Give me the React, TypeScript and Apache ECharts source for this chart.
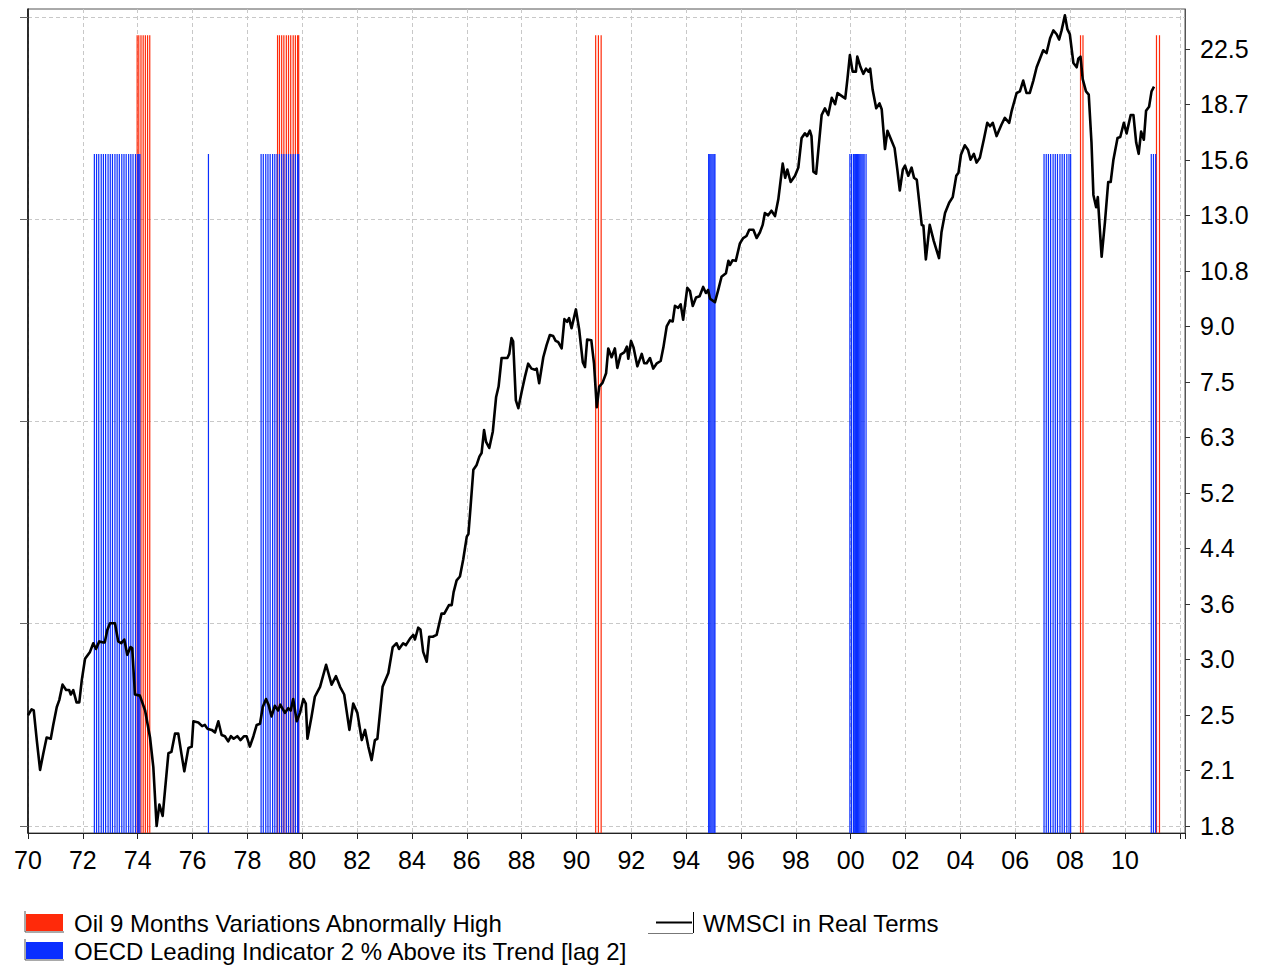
import React, { useEffect, useRef } from "react";
import * as echarts from "echarts";

// ---------- DATA ----------
const wmsciYears = [
  1970.0, 1970.13, 1970.21, 1970.32, 1970.44, 1970.56, 1970.68, 1970.83, 1970.92, 1971.05,
  1971.14, 1971.26, 1971.39, 1971.5, 1971.56, 1971.65, 1971.77, 1971.87, 1971.96, 1972.08,
  1972.26, 1972.38, 1972.48, 1972.6, 1972.72, 1972.8, 1972.89, 1972.99, 1973.17, 1973.29,
  1973.4, 1973.51, 1973.62, 1973.74, 1973.8, 1973.9, 1974.08, 1974.27, 1974.45, 1974.57,
  1974.69, 1974.79, 1974.91, 1975.12, 1975.23, 1975.36, 1975.48, 1975.6, 1975.7, 1975.85,
  1975.97, 1976.03, 1976.21, 1976.35, 1976.45, 1976.54, 1976.7, 1976.82, 1976.94, 1977.06,
  1977.18, 1977.3, 1977.4, 1977.5, 1977.63, 1977.75, 1977.88, 1977.97, 1978.09, 1978.22,
  1978.34, 1978.46, 1978.56, 1978.68, 1978.77, 1978.88, 1979.0, 1979.12, 1979.2, 1979.37,
  1979.49, 1979.58, 1979.67, 1979.8, 1979.92, 1980.04, 1980.13, 1980.19, 1980.34, 1980.46,
  1980.65, 1980.87, 1981.07, 1981.23, 1981.38, 1981.53, 1981.72, 1981.86, 1982.01, 1982.17,
  1982.29, 1982.41, 1982.53, 1982.65, 1982.74, 1982.93, 1983.14, 1983.3, 1983.44, 1983.53,
  1983.68, 1983.78, 1983.93, 1984.05, 1984.11, 1984.23, 1984.31, 1984.41, 1984.54, 1984.63,
  1984.76, 1984.9, 1985.08, 1985.18, 1985.35, 1985.45, 1985.52, 1985.63, 1985.75, 1985.87,
  1986.0, 1986.06, 1986.14, 1986.24, 1986.36, 1986.46, 1986.54, 1986.63, 1986.7, 1986.82,
  1986.95, 1987.07, 1987.16, 1987.27, 1987.48, 1987.55, 1987.63, 1987.69, 1987.79, 1987.88,
  1988.0, 1988.12, 1988.24, 1988.36, 1988.49, 1988.55, 1988.64, 1988.79, 1988.91, 1989.03,
  1989.15, 1989.24, 1989.33, 1989.46, 1989.56, 1989.66, 1989.73, 1989.82, 1989.98, 1990.1,
  1990.23, 1990.31, 1990.39, 1990.54, 1990.64, 1990.74, 1990.83, 1990.95, 1991.08, 1991.16,
  1991.28, 1991.4, 1991.49, 1991.61, 1991.74, 1991.84, 1991.89, 1991.99, 1992.08, 1992.22,
  1992.38, 1992.47, 1992.56, 1992.68, 1992.8, 1992.93, 1993.07, 1993.17, 1993.29, 1993.41,
  1993.51, 1993.59, 1993.71, 1993.8, 1993.89, 1994.04, 1994.14, 1994.24, 1994.36, 1994.49,
  1994.62, 1994.72, 1994.8, 1994.87, 1995.05, 1995.17, 1995.29, 1995.45, 1995.54, 1995.6,
  1995.69, 1995.81, 1995.96, 1996.08, 1996.2, 1996.3, 1996.45, 1996.57, 1996.69, 1996.79,
  1996.87, 1996.99, 1997.11, 1997.24, 1997.36, 1997.52, 1997.61, 1997.69, 1997.81, 1997.97,
  1998.09, 1998.21, 1998.33, 1998.41, 1998.51, 1998.57, 1998.64, 1998.74, 1998.82, 1998.94,
  1999.06, 1999.18, 1999.31, 1999.43, 1999.52, 1999.68, 1999.8, 1999.88, 1999.97, 2000.07,
  2000.19, 2000.24, 2000.36, 2000.46, 2000.56, 2000.65, 2000.71, 2000.8, 2000.93, 2001.05,
  2001.13, 2001.25, 2001.34, 2001.46, 2001.6, 2001.7, 2001.79, 2001.9, 2001.98, 2002.1,
  2002.22, 2002.31, 2002.41, 2002.59, 2002.65, 2002.74, 2002.88, 2003.03, 2003.22, 2003.31,
  2003.44, 2003.59, 2003.72, 2003.85, 2003.93, 2004.02, 2004.16, 2004.28, 2004.37, 2004.49,
  2004.59, 2004.71, 2004.86, 2004.98, 2005.08, 2005.18, 2005.32, 2005.5, 2005.62, 2005.78,
  2005.87, 2006.05, 2006.17, 2006.29, 2006.41, 2006.53, 2006.66, 2006.78, 2006.9, 2007.02,
  2007.14, 2007.27, 2007.39, 2007.51, 2007.6, 2007.69, 2007.81, 2007.9, 2007.99, 2008.12,
  2008.24, 2008.3, 2008.38, 2008.46, 2008.58, 2008.68, 2008.78, 2008.85, 2008.95, 2009.01,
  2009.15, 2009.27, 2009.39, 2009.48, 2009.58, 2009.73, 2009.83, 2009.96, 2010.06, 2010.21,
  2010.31, 2010.41, 2010.5, 2010.59, 2010.69, 2010.77, 2010.88, 2010.97, 2011.06,
];

const wmsciValues = [
  2.58, 2.63, 2.62, 2.38, 2.16, 2.28, 2.4, 2.39, 2.5, 2.65,
  2.71, 2.85, 2.8, 2.8, 2.76, 2.8, 2.69, 2.69, 2.89, 3.1,
  3.17, 3.26, 3.2, 3.28, 3.27, 3.27, 3.4, 3.48, 3.48, 3.28,
  3.26, 3.3, 3.14, 3.22, 3.21, 2.76, 2.75, 2.62, 2.4, 2.18,
  1.8, 1.93, 1.86, 2.28, 2.29, 2.43, 2.43, 2.27, 2.15, 2.32,
  2.33, 2.53, 2.52, 2.49, 2.5, 2.47, 2.46, 2.44, 2.53, 2.42,
  2.41, 2.37, 2.41, 2.39, 2.41, 2.38, 2.41, 2.41, 2.33, 2.41,
  2.5, 2.51, 2.65, 2.72, 2.67, 2.57, 2.66, 2.62, 2.67, 2.6,
  2.64, 2.62, 2.72, 2.53, 2.6, 2.72, 2.68, 2.39, 2.57, 2.74,
  2.83, 3.04, 2.85, 2.93, 2.83, 2.76, 2.46, 2.68, 2.6, 2.38,
  2.46, 2.33, 2.23, 2.38, 2.39, 2.83, 2.96, 3.22, 3.26, 3.2,
  3.26, 3.24, 3.31, 3.35, 3.3, 3.43, 3.41, 3.17, 3.07, 3.33,
  3.33, 3.35, 3.59, 3.59, 3.69, 3.69, 3.85, 4.0, 4.05, 4.28,
  4.61, 4.65, 5.09, 5.73, 5.82, 5.98, 6.05, 6.52, 6.28, 6.15,
  6.49, 7.26, 7.51, 8.24, 8.24, 8.35, 8.79, 8.7, 7.18, 7.0,
  7.38, 7.75, 8.09, 7.96, 7.93, 7.96, 7.59, 8.26, 8.59, 8.88,
  8.85, 8.71, 8.68, 8.5, 9.35, 9.27, 9.38, 9.08, 9.65, 9.03,
  8.13, 8.0, 8.75, 8.73, 8.09, 7.02, 7.51, 7.6, 7.84, 8.5,
  8.26, 8.5, 7.98, 8.33, 8.39, 8.55, 8.22, 8.71, 8.53, 8.02,
  8.35, 8.1, 8.1, 8.24, 7.96, 8.1, 8.16, 8.53, 9.13, 9.31,
  9.28, 9.76, 9.7, 9.81, 9.33, 10.35, 10.24, 9.76, 10.03, 10.07,
  10.38, 10.18, 10.28, 9.99, 9.88, 10.28, 10.73, 10.85, 11.3, 11.15,
  11.32, 11.3, 11.96, 12.17, 12.25, 12.5, 12.5, 12.17, 12.4, 12.7,
  13.2, 13.1, 13.3, 13.07, 13.8, 15.5, 14.8, 15.2, 14.6, 14.9,
  15.3, 16.85, 17.1, 16.95, 17.25, 16.95, 15.1, 15.0, 16.2, 18.15,
  18.55, 18.15, 19.2, 18.8, 19.5, 19.3, 19.15, 20.4, 22.05, 20.9,
  20.9, 21.95, 21.2, 20.75, 21.1, 20.9, 21.1, 19.7, 18.55, 18.85,
  18.5, 16.25, 17.25, 16.8, 16.3, 15.2, 14.2, 15.2, 15.4, 14.9,
  15.3, 14.8, 14.7, 12.7, 12.68, 11.35, 12.7, 12.05, 11.4, 12.4,
  13.2, 13.65, 13.9, 14.9, 15.05, 15.95, 16.45, 16.2, 15.7, 16.0,
  15.55, 15.8, 16.8, 17.7, 17.5, 17.7, 16.95, 17.6, 17.98, 17.7,
  18.4, 19.5, 19.6, 20.3, 19.5, 19.5, 20.3, 21.2, 21.8, 22.4,
  22.2, 23.3, 23.9, 23.6, 23.2, 23.9, 25.1, 24.0, 23.6, 21.5,
  21.2, 21.8, 21.95, 20.4, 19.6, 19.4, 16.6, 14.0, 13.45, 13.9,
  11.45, 12.8, 14.6, 14.6, 15.7, 16.85, 16.9, 17.7, 17.1, 18.15,
  18.15, 16.6, 16.0, 17.2, 16.75, 18.4, 18.65, 19.6, 19.9,
];

// months (decimal years) where the oil 9-month variation flag is on
const oilHighDates = [
  1973.98, 1974.04, 1974.12, 1974.2, 1974.28, 1974.36, 1974.44,
  1979.1, 1979.17, 1979.25, 1979.33, 1979.42, 1979.5, 1979.58, 1979.67, 1979.75, 1979.83, 1979.87,
  1990.7, 1990.8, 1990.9,
  2008.38, 2008.47,
  2011.15, 2011.26,
];

// months (decimal years) where the OECD leading indicator flag is on
const oecdAboveDates = [
  1972.42, 1972.5, 1972.58, 1972.67, 1972.75, 1972.83, 1972.92, 1973.0, 1973.08, 1973.17,
  1973.25, 1973.33, 1973.42, 1973.5, 1973.58, 1973.67, 1973.75, 1973.83, 1973.92, 1974.0,
  1974.04, 1974.08,
  1976.58,
  1978.5, 1978.58, 1978.67, 1978.75, 1978.83, 1978.92, 1979.0, 1979.08, 1979.17, 1979.25,
  1979.33, 1979.42, 1979.5, 1979.58, 1979.67, 1979.75, 1979.83, 1979.87,
  1994.82, 1994.86, 1994.9, 1994.94, 1994.98, 1995.02, 1995.05,
  1999.97, 2000.03, 2000.1, 2000.13, 2000.17, 2000.21, 2000.25, 2000.29, 2000.33, 2000.37,
  2000.41, 2000.45, 2000.49, 2000.56,
  2007.05, 2007.13, 2007.21, 2007.29, 2007.38, 2007.46, 2007.54, 2007.63, 2007.71, 2007.79,
  2007.88, 2007.96, 2008.02,
  2010.96, 2011.04, 2011.12,
];

const oilFlagLevel = 96.8;
const oecdFlagLevel = 82.4;

const yTickLabels = [
  "1.8", "2.1", "2.5", "3.0", "3.6", "4.4", "5.2", "6.3", "7.5", "9.0",
  "10.8", "13.0", "15.6", "18.7", "22.5",
];
const leftGridTicks = [0.85, 25.5, 50, 74.5, 99.05];

const NAME_OIL = "Oil 9 Months Variations Abnormally High";
const NAME_OECD = "OECD Leading Indicator 2 % Above its Trend [lag 2]";
const NAME_WMSCI = "WMSCI in Real Terms";

// ---------- STYLE ----------
const FONT = '"Liberation Sans", Arial, Helvetica, sans-serif';
const RED = "#ff2a0a";
const BLUE = "#0a2eff";
const LOG_LO = 1.8;
const LOG_HI = 22.5;
const yTickValues = yTickLabels.map((_, k) => LOG_LO * Math.pow(LOG_HI / LOG_LO, k / (yTickLabels.length - 1)));

function yLabel(v: number): string {
  const k = Math.round((Math.log(v / LOG_LO) / Math.log(LOG_HI / LOG_LO)) * (yTickLabels.length - 1));
  return yTickLabels[k] ?? "";
}

function xLabel(v: number): string {
  const y = Math.round(v);
  if (y > 2010) return "";
  return String(y % 100).padStart(2, "0");
}

export default function App() {
  const ref = useRef<HTMLDivElement>(null);

  useEffect(() => {
    if (!ref.current) return;
    const chart = echarts.init(ref.current, null, { renderer: "svg", width: 1262, height: 965 });

    const option: any = {
      animation: false,
      backgroundColor: "#ffffff",
      textStyle: { fontFamily: FONT },
      grid: {
        left: 28,
        right: 77,
        top: 9,
        bottom: 132,
        show: true,
        borderColor: "#555",
        borderWidth: 1,
        backgroundColor: "transparent",
        containLabel: false,
        outerBoundsMode: "none",
      },
      xAxis: [
        {
          type: "value",
          min: 1970,
          max: 2012.19,
          interval: 2,
          axisLine: { show: true, onZero: false, lineStyle: { color: "#222", width: 1 } },
          axisTick: { show: true, length: 6, lineStyle: { color: "#222" } },
          axisLabel: {
            formatter: xLabel,
            fontSize: 25,
            color: "#000",
            margin: 14,
            fontFamily: FONT,
          },
          splitLine: { show: true, lineStyle: { color: "#c8c8c8", type: [4, 3], width: 1 } },
        },
      ],
      yAxis: [
        {
          type: "value",
          position: "left",
          min: 0,
          max: 100,
          axisLine: { show: true, onZero: false, lineStyle: { color: "#000", width: 1.5 } },
          axisTick: { show: true, length: 8, customValues: leftGridTicks, lineStyle: { color: "#666" } },
          axisLabel: { show: false },
          splitLine: { show: true, lineStyle: { color: "#c8c8c8", type: [4, 3], width: 1 } },
        },
        {
          type: "log",
          position: "right",
          min: 1.7595,
          max: 25.62,
          axisLine: { show: true, onZero: false, lineStyle: { color: "#555", width: 1 } },
          axisTick: { show: true, length: 5, customValues: yTickValues, lineStyle: { color: "#333" } },
          axisLabel: {
            customValues: yTickValues,
            formatter: yLabel,
            fontSize: 25,
            color: "#000",
            margin: 15,
            fontFamily: FONT,
          },
          splitLine: { show: false },
        },
      ],
      series: [
        {
          name: NAME_OIL,
          type: "bar",
          xAxisIndex: 0,
          yAxisIndex: 0,
          barWidth: 1.2,
          barGap: "-100%",
          silent: true,
          itemStyle: { color: RED },
          data: oilHighDates.map((d) => [d, oilFlagLevel]),
          z: 2,
        },
        {
          name: NAME_OECD,
          type: "bar",
          xAxisIndex: 0,
          yAxisIndex: 0,
          barWidth: 1.2,
          barGap: "-100%",
          silent: true,
          itemStyle: { color: BLUE },
          data: oecdAboveDates.map((d) => [d, oecdFlagLevel]),
          z: 3,
        },
        {
          name: NAME_WMSCI,
          type: "line",
          xAxisIndex: 0,
          yAxisIndex: 1,
          showSymbol: false,
          symbol: "none",
          silent: true,
          lineStyle: { color: "#000", width: 2.6, join: "round" },
          data: wmsciYears.map((y, i) => [y, wmsciValues[i]]),
          z: 5,
        },
      ],
      graphic: [
        // legend: oil
        { type: "rect", shape: { x: 26, y: 914, width: 37, height: 17 }, style: { fill: RED } },
        { type: "polyline", shape: { points: [[25, 911], [25, 932], [64, 932]] }, style: { stroke: "#555", lineWidth: 1, fill: null } },
        {
          type: "text",
          x: 74,
          y: 923,
          style: { text: NAME_OIL, font: `24px ${FONT}`, fill: "#000", verticalAlign: "middle", align: "left" },
        },
        // legend: oecd
        { type: "rect", shape: { x: 26, y: 942, width: 37, height: 17 }, style: { fill: BLUE } },
        { type: "polyline", shape: { points: [[25, 939], [25, 960], [64, 960]] }, style: { stroke: "#555", lineWidth: 1, fill: null } },
        {
          type: "text",
          x: 74,
          y: 951,
          style: { text: NAME_OECD, font: `24px ${FONT}`, fill: "#000", verticalAlign: "middle", align: "left" },
        },
        // legend: line
        { type: "line", shape: { x1: 656, y1: 922.5, x2: 692, y2: 922.5 }, style: { stroke: "#000", lineWidth: 2 } },
        { type: "line", shape: { x1: 693.5, y1: 912, x2: 693.5, y2: 933 }, style: { stroke: "#000", lineWidth: 1 } },
        { type: "line", shape: { x1: 648, y1: 933.5, x2: 693, y2: 933.5 }, style: { stroke: "#777", lineWidth: 1 } },
        {
          type: "text",
          x: 703,
          y: 923,
          style: { text: NAME_WMSCI, font: `24px ${FONT}`, fill: "#000", verticalAlign: "middle", align: "left" },
        },
      ],
    };

    chart.setOption(option);
    return () => chart.dispose();
  }, []);

  return (
    <div
      ref={ref}
      style={{ position: "fixed", left: 0, top: 0, width: 1262, height: 965, background: "#fff" }}
    />
  );
}
